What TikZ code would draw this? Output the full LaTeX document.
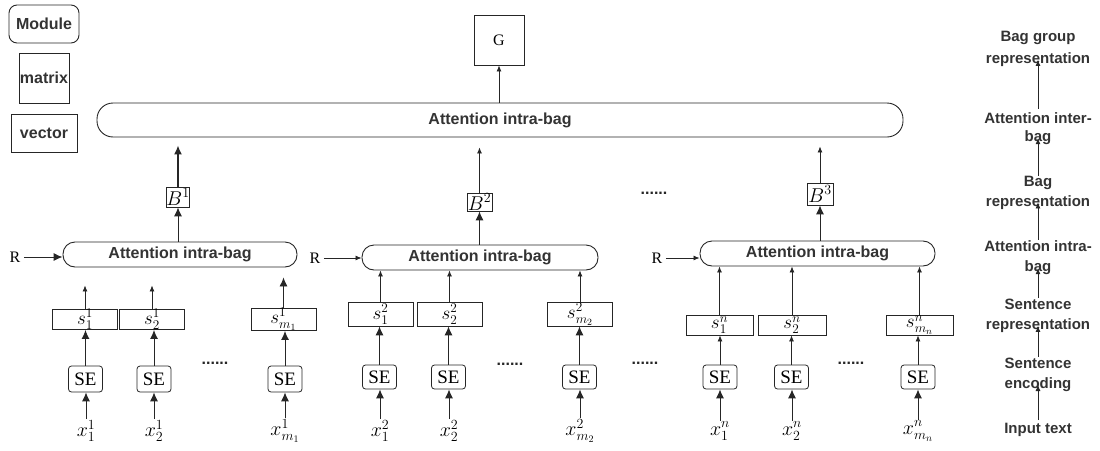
\RequirePackage{fix-cm}
\documentclass[tikz,border=0pt]{standalone}
\usepackage{fontspec}
\setmainfont{Liberation Sans}
\newfontfamily\serifx{Liberation Serif}
\usetikzlibrary{arrows.meta}
\tikzset{
  lbl/.style={font=\fontsize{16}{19}\selectfont\bfseries, text=black!80},
  rt/.style={font=\fontsize{15}{20}\selectfont\bfseries, text=black!80, align=center, inner sep=1pt},
  modbox/.style={draw=black!85, line width=0.9pt, rounded corners=12pt, minimum height=25pt, inner sep=0pt, lbl},
  box/.style={draw=black!85, line width=0.8pt, inner sep=0pt},
  sebox/.style={draw=black!85, line width=0.8pt, rounded corners=3pt, minimum width=34pt, minimum height=26pt, inner sep=0pt, font=\serifx\fontsize{19}{22}\selectfont},
  svec/.style={box, minimum width=65pt, font=\fontsize{19}{22}\selectfont},
  mlab/.style={inner sep=1pt, font=\fontsize{20}{24}\selectfont},
  serif/.style={font=\serifx\fontsize{16}{19}\selectfont},
  dotsx/.style={inner sep=0pt, font=\fontsize{16}{19}\selectfont\bfseries, text=black!85},
  big/.style={-{Latex[length=9pt,width=8pt]}, draw=black!85, line width=0.9pt},
  small/.style={-{Latex[length=6pt,width=5pt]}, draw=black!85, line width=0.8pt}
}
\begin{document}
\begin{tikzpicture}[x=1pt,y=-1pt]
\useasboundingbox (0,0) rectangle (1100,450);
% legend
\node[modbox, minimum width=70pt, minimum height=38pt, rounded corners=8pt] (lmod) at (44,24) {Module};
\node[box, lbl, minimum width=50pt, minimum height=50pt] (lmat) at (44,78) {matrix};
\node[box, lbl, minimum width=66pt, minimum height=38pt] (lvec) at (44,133) {vector};
% top
\node[box, serif, minimum width=50pt, minimum height=50pt] (G) at (499,40) {G};
\node[modbox, minimum width=806pt, minimum height=34pt, rounded corners=16pt] (top) at (500,120) {Attention intra-bag};
\draw[small] (G.south |- top.north) -- (G.south);
% ---------- group 1
\node[modbox, minimum width=234pt] (att1) at (180,254.5) {Attention intra-bag};
\node[serif] (R1) at (15,257) {R};
\draw[big] (R1.east) -- (R1.east -| att1.west);
\node[box, mlab, minimum width=18pt, minimum height=20pt, inner sep=0pt] (B1) at (178,197) {$B^1$};
\draw[big] (B1.south |- att1.north) -- (B1.south);
\draw[big, line width=1.5pt, shorten >=8pt] (B1.north) -- (B1.north |- top.south);
\node[svec, minimum height=16pt] (s11) at (85,319.5) {$s^1_1$};
\node[svec, minimum height=16pt] (s12) at (152,319.5) {$s^1_2$};
\node[svec, minimum height=16pt] (s1m) at (283.5,319.5) {$s^1_{m_1}$};
\draw[small, shorten >=18pt] (s11.north) -- (s11.north |- att1.south);
\draw[small, shorten >=18pt] (s12.north) -- (s12.north |- att1.south);
\draw[big, shorten >=10pt] (s1m.north) -- (s1m.north |- att1.south);
\node[sebox] (e11) at (85.5,379) {SE};
\node[sebox] (e12) at (154,379) {SE};
\node[sebox] (e1m) at (285,379) {SE};
\draw[big] (e11.north) -- (e11.north |- s11.south);
\draw[big] (e12.north) -- (e12.north |- s12.south);
\draw[big] (e1m.north) -- (e1m.north |- s1m.south);
\node[mlab] (x11) at (86,431) {$x^1_1$};
\node[mlab] (x12) at (154,431) {$x^1_2$};
\node[mlab] (x1m) at (285,431) {$x^1_{m_1}$};
\draw[big] (x11.north) -- (x11.north |- e11.south);
\draw[big] (x12.north) -- (x12.north |- e12.south);
\draw[big] (x1m.north) -- (x1m.north |- e1m.south);
\node[dotsx] (d1) at (215,363) {......};
% ---------- group 2
\node[modbox, minimum width=236pt] (att2) at (480,257.5) {Attention intra-bag};
\node[serif] (R2) at (315,258) {R};
\draw[small] (R2.east) -- (R2.east -| att2.west);
\node[box, mlab, minimum width=25pt, minimum height=18pt, inner sep=0pt] (B2) at (479.5,202) {$B^2$};
\draw[big] (B2.south |- att2.north) -- (B2.south);
\draw[small, shorten >=10pt] (B2.north) -- (B2.north |- top.south);
\node[svec, minimum height=24pt] (s21) at (380.5,314) {$s^2_1$};
\node[svec, minimum height=24pt] (s22) at (449.5,314) {$s^2_2$};
\node[svec, minimum height=24pt] (s2m) at (580,314) {$s^2_{m_2}$};
\draw[small] (s21.north) -- (s21.north |- att2.south);
\draw[small] (s22.north) -- (s22.north |- att2.south);
\draw[small] (s2m.north) -- (s2m.north |- att2.south);
\node[sebox, minimum height=24pt] (e21) at (379.5,377) {SE};
\node[sebox, minimum height=24pt] (e22) at (448.5,377) {SE};
\node[sebox, minimum height=24pt] (e2m) at (579.5,377) {SE};
\draw[big] (e21.north) -- (e21.north |- s21.south);
\draw[big] (e22.north) -- (e22.north |- s22.south);
\draw[big] (e2m.north) -- (e2m.north |- s2m.south);
\node[mlab] (x21) at (380,431) {$x^2_1$};
\node[mlab] (x22) at (449,431) {$x^2_2$};
\node[mlab] (x2m) at (580,431) {$x^2_{m_2}$};
\draw[big] (x21.north) -- (x21.north |- e21.south);
\draw[big] (x22.north) -- (x22.north |- e22.south);
\draw[big] (x2m.north) -- (x2m.north |- e2m.south);
\node[dotsx] (d2) at (510,364) {......};
\node[dotsx] (d3) at (645,363) {......};
\node[dotsx] (dup) at (654,193) {......};
% ---------- group 3
\node[modbox, minimum width=235pt] (att3) at (817.5,253.5) {Attention intra-bag};
\node[serif] (R3) at (657,258) {R};
\draw[small] (R3.east) -- (R3.east -| att3.west);
\node[box, mlab, minimum width=26pt, minimum height=22pt, inner sep=0pt] (B3) at (820,194) {$B^3$};
\draw[big] (B3.south |- att3.north) -- (B3.south);
\draw[small, shorten >=9pt] (B3.north) -- (B3.north |- top.south);
\node[svec, minimum width=67pt, minimum height=20pt] (s31) at (719.5,325) {$s^n_1$};
\node[svec, minimum width=68pt, minimum height=20pt] (s32) at (792,325) {$s^n_2$};
\node[svec, minimum width=67pt, minimum height=20pt] (s3m) at (919.5,325) {$s^n_{m_n}$};
\draw[small] (s31.north) -- (s31.north |- att3.south);
\draw[small] (s32.north) -- (s32.north |- att3.south);
\draw[small] (s3m.north) -- (s3m.north |- att3.south);
\node[sebox, minimum height=24pt] (e31) at (720,377) {SE};
\node[sebox, minimum height=24pt] (e32) at (791.5,377) {SE};
\node[sebox, minimum height=24pt] (e3m) at (918,377) {SE};
\draw[small] (e31.north) -- (e31.north |- s31.south);
\draw[small] (e32.north) -- (e32.north |- s32.south);
\draw[small] (e3m.north) -- (e3m.north |- s3m.south);
\node[mlab] (x31) at (720,431) {$x^n_1$};
\node[mlab] (x32) at (792,431) {$x^n_2$};
\node[mlab] (x3m) at (918,431) {$x^n_{m_n}$};
\draw[big] (x31.north) -- (x31.north |- e31.south);
\draw[big] (x32.north) -- (x32.north |- e32.south);
\draw[big] (x3m.north) -- (x3m.north |- e3m.south);
\node[dotsx] (d4) at (851,363) {......};
% ---------- right column
\node[rt, font=\fontsize{15}{22}\selectfont\bfseries] (r1) at (1038,49) {Bag group\\representation};
\node[rt, font=\fontsize{15}{18}\selectfont\bfseries] (r2) at (1038,129) {Attention inter-\\bag};
\node[rt] (r3) at (1038,192.5) {Bag\\representation};
\node[rt] (r4) at (1038,258) {Attention intra-\\bag};
\node[rt] (r5) at (1038,316) {Sentence\\representation};
\node[rt] (r6) at (1038,375) {Sentence\\encoding};
\node[rt] (r7) at (1038,430) {Input text};
\draw[small] ([yshift=3pt]r2.north) -- ([yshift=8pt]r1.south);
\draw[small] ([yshift=-1pt]r3.north) -- ([yshift=8pt]r2.south);
\draw[small] (r4.north) -- ([yshift=8pt]r3.south);
\draw[small] (r5.north) -- ([yshift=8pt]r4.south);
\draw[small] (r6.north) -- ([yshift=8pt]r5.south);
\draw[small] ([yshift=2pt]r7.north) -- ([yshift=8pt]r6.south);
\end{tikzpicture}
\end{document}
